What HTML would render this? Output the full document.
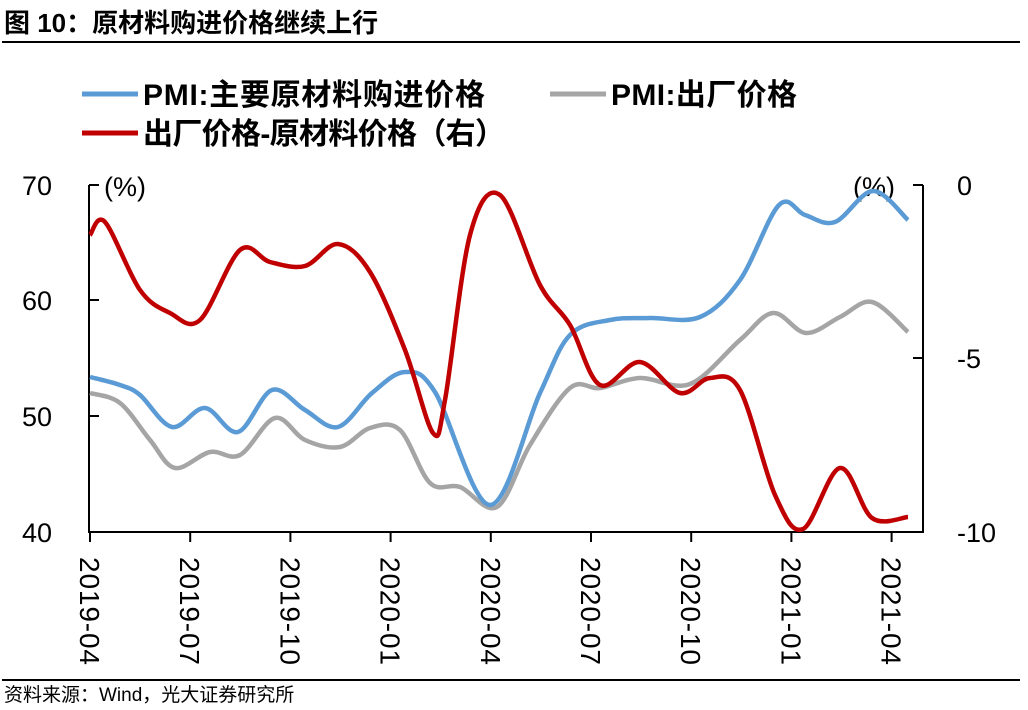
<!DOCTYPE html>
<html><head><meta charset="utf-8"><style>
body{margin:0;width:1028px;height:710px;background:#fff;overflow:hidden;font-family:"Liberation Sans","Noto Sans CJK SC",sans-serif;}
</style></head><body>
<svg width="1028" height="710" xmlns="http://www.w3.org/2000/svg" style="position:absolute;left:0;top:0">
<text x="4" y="32" font-size="26" font-weight="bold" font-family="Liberation Sans,Noto Sans CJK SC,sans-serif">图 10：原材料购进价格继续上行</text>
<rect x="2" y="41" width="1018" height="2" fill="#000"/>
<line x1="82" y1="94" x2="138" y2="94" stroke="#5b9bd5" stroke-width="5"/>
<text x="143" y="105" font-size="30" font-weight="bold" textLength="342" font-family="Liberation Sans,Noto Sans CJK SC,sans-serif">PMI:主要原材料购进价格</text>
<line x1="550" y1="94" x2="606" y2="94" stroke="#a5a5a5" stroke-width="5"/>
<text x="611" y="105" font-size="30" font-weight="bold" textLength="186" font-family="Liberation Sans,Noto Sans CJK SC,sans-serif">PMI:出厂价格</text>
<line x1="82" y1="133" x2="138" y2="133" stroke="#c00000" stroke-width="5"/>
<text x="143" y="144" font-size="30" font-weight="bold" textLength="362" font-family="Liberation Sans,Noto Sans CJK SC,sans-serif">出厂价格-原材料价格（右）</text>
<g stroke="#000" stroke-width="2" fill="none">
<line x1="89" y1="185" x2="89" y2="532"/>
<line x1="923" y1="185" x2="923" y2="532"/>
<line x1="88" y1="532" x2="924" y2="532"/>
<line x1="89" y1="185" x2="99" y2="185"/><line x1="89" y1="300" x2="99" y2="300"/><line x1="89" y1="416" x2="99" y2="416"/>
<line x1="913" y1="185" x2="923" y2="185"/><line x1="913" y1="358" x2="923" y2="358"/>
<g id="tk"></g>
</g>
<g font-size="27" font-family="Liberation Sans,sans-serif">
<text x="22" y="195">70</text><text x="22" y="310">60</text><text x="22" y="426">50</text><text x="22" y="542">40</text>
<text x="957" y="195">0</text><text x="957" y="368">-5</text><text x="957" y="542">-10</text>
<text x="104" y="196">(%)</text><text x="853" y="196">(%)</text>
</g>
<g id="xl" font-size="28" font-family="Liberation Sans,sans-serif"></g>
<path id="pg" fill="none" stroke="#a5a5a5" stroke-width="4.5"/>
<path id="pb" fill="none" stroke="#5b9bd5" stroke-width="4.5"/>
<path id="pr" fill="none" stroke="#c00000" stroke-width="4.5"/>
<rect x="2" y="679" width="1018" height="2" fill="#000"/>
<text x="4" y="701" font-size="19" font-family="Liberation Sans,Noto Sans CJK SC,sans-serif">资料来源：Wind，光大证券研究所</text>
</svg>
<script>
var NS="http://www.w3.org/2000/svg";
var labs=["2019-04","2019-07","2019-10","2020-01","2020-04","2020-07","2020-10","2021-01","2021-04"];
var tk=document.getElementById("tk"),xl=document.getElementById("xl");
labs.forEach(function(l,i){var x=90+i*100.2;
var ln=document.createElementNS(NS,"line");ln.setAttribute("x1",x);ln.setAttribute("x2",x);ln.setAttribute("y1",532);ln.setAttribute("y2",542);tk.appendChild(ln);
var t=document.createElementNS(NS,"text");t.textContent=l;t.setAttribute("textLength","108");t.setAttribute("transform","translate("+(x-10)+",557) rotate(90)");xl.appendChild(t);});
function cr(p){var d="M"+p[0][0]+","+p[0][1];for(var i=0;i<p.length-1;i++){var a=p[i-1]||p[i],b=p[i],c=p[i+1],e=p[i+2]||c;
d+=" C"+(b[0]+(c[0]-a[0])/6)+","+(b[1]+(c[1]-a[1])/6)+" "+(c[0]-(e[0]-b[0])/6)+","+(c[1]-(e[1]-b[1])/6)+" "+c[0]+","+c[1];}return d;}
var B=[[90,377],[120,385],[140,395],[172,427],[205,408],[238,432],[272,390],[305,410],[338,427],[372,393],[405,372],[435,392],[490,505],[540,393],[570,335],[610,320],[650,318],[700,317],[740,280],[779,205],[805,215],[835,222],[873,191],[908,220]];
var G=[[90,393],[120,403],[150,440],[175,468],[210,452],[240,455],[275,418],[305,440],[340,447],[370,428],[400,430],[430,483],[460,487],[497,507],[530,445],[570,388],[600,388],[640,378],[690,384],[740,340],[773,313],[806,333],[840,317],[872,302],[908,332]];
var R=[[90,235],[105,222],[140,290],[170,313],[200,320],[240,250],[270,262],[305,266],[338,244],[370,272],[405,350],[433,433],[445,400],[470,235],[500,195],[540,285],[570,325],[600,385],[640,362],[680,393],[710,378],[740,390],[775,495],[803,529],[840,468],[872,518],[908,517]];
document.getElementById("pb").setAttribute("d",cr(B));
document.getElementById("pg").setAttribute("d",cr(G));
document.getElementById("pr").setAttribute("d",cr(R));
</script>
</body></html>
